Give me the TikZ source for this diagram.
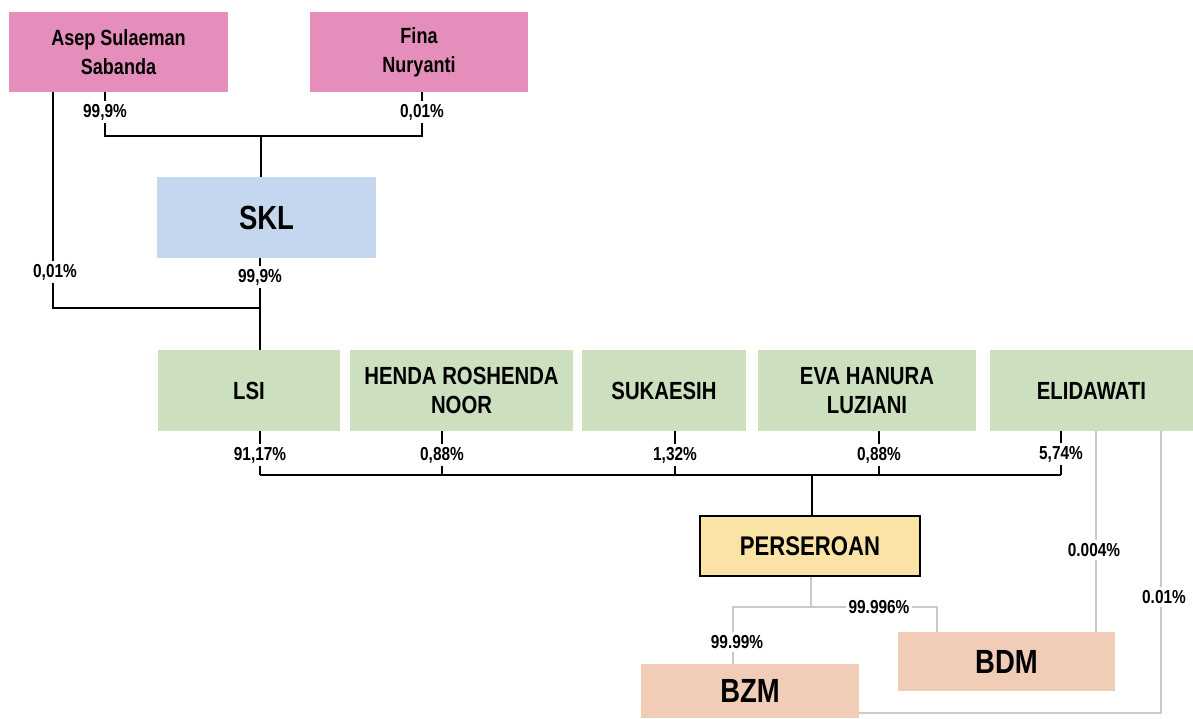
\documentclass[tikz,border=0pt]{standalone}
\usepackage{fontspec}
\setmainfont{Liberation Sans}[FakeStretch=0.82]
\usetikzlibrary{backgrounds}
\definecolor{cpink}{HTML}{E68EBB}
\definecolor{cblue}{HTML}{C5D7EE}
\definecolor{cgreen}{HTML}{CCE0BF}
\definecolor{cyellow}{HTML}{FAE3A5}
\definecolor{cpeach}{HTML}{F1CDB7}
\definecolor{cgray}{HTML}{C9C9C9}
\tikzset{
  box/.style={rectangle, draw=none, align=center, inner sep=0pt, font=\bfseries},
  topbox/.style={box, fill=cpink, minimum width=#1, minimum height=80pt, font=\bfseries\fontsize{22}{29}\selectfont},
  greenbox/.style={box, fill=cgreen, minimum width=#1, minimum height=81pt, font=\bfseries\fontsize{24.8}{29}\selectfont},
  bigbox/.style={box, minimum width=#1, font=\bfseries\fontsize{33.5}{36}\selectfont},
  pct/.style={fill=white, inner sep=3pt, font=\bfseries\fontsize{18.8}{20}\selectfont},
  bl/.style={line width=1.8pt, black},
  gl/.style={line width=1.8pt, cgray},
}
\begin{document}
\begin{tikzpicture}[x=1pt,y=-1pt]
\useasboundingbox (0,0) rectangle (1193,718);
% boxes
\node[topbox=219pt] (asep) at (118.5,52) {Asep Sulaeman\\Sabanda};
\node[topbox=218pt] (fina) at (419,52) {Fina\\Nuryanti};
\node[bigbox=219pt, fill=cblue, minimum height=81pt] (skl) at (266.5,217.5) {SKL};
\node[greenbox=182pt] (lsi) at (249,390.5) {LSI};
\node[greenbox=223pt] (henda) at (461.5,390.5) {HENDA ROSHENDA\\NOOR};
\node[greenbox=164pt] (suka) at (664,390.5) {SUKAESIH};
\node[greenbox=218pt] (eva) at (867,390.5) {EVA HANURA\\LUZIANI};
\node[greenbox=203pt] (eli) at (1091.5,390.5) {ELIDAWATI};
\node[box, fill=cyellow, draw=black, line width=2pt, minimum width=220pt, minimum height=60pt, font=\bfseries\fontsize{27}{29}\selectfont] (pers) at (810,546) {PERSEROAN};
\node[bigbox=217pt, fill=cpeach, minimum height=59pt] (bdm) at (1006.5,661.5) {BDM};
\node[bigbox=218pt, fill=cpeach, minimum height=54pt] (bzm) at (750,691) {BZM};
% junction coordinates
\coordinate (jtop) at (261,136);
\coordinate (jmid) at (260,308);
\coordinate (b1) at (260,475);
\coordinate (b2) at (442,475);
\coordinate (b3) at (675,475);
\coordinate (b4) at (879,475);
\coordinate (b5) at (1061,475);
\coordinate (b6) at (812,475);
\coordinate (g0) at (811,607);
\coordinate (gl1) at (733,607);
\coordinate (gr1) at (937,607);
\coordinate (e1) at (1096,431);
\coordinate (e2) at (1161,713);
\begin{scope}[on background layer]
\draw[bl] ([xshift=-13.5pt]asep.south) |- (jtop);
\draw[bl] ([xshift=3pt]fina.south) |- (jtop);
\draw[bl] (jtop) -- (jtop |- skl.north);
\draw[bl] ([xshift=-65.5pt]asep.south) |- (jmid);
\draw[bl] (jmid |- skl.south) -- (jmid |- lsi.north);
\draw[bl] (b1 |- lsi.south) -- (b1);
\draw[bl] (b2 |- henda.south) -- (b2);
\draw[bl] (b3 |- suka.south) -- (b3);
\draw[bl] (b4 |- eva.south) -- (b4);
\draw[bl] (b5 |- eli.south) -- (b5);
\draw[bl] (b1) -- (b5);
\draw[bl] (b6) -- (b6 |- pers.north);
\draw[gl] (g0 |- pers.south) -- (g0);
\draw[gl] (gl1 |- bzm.north) -- (gl1) -- (gr1) -- (gr1 |- bdm.north);
\draw[gl] (e1 |- eli.south) -- (e1 |- bdm.north);
\draw[gl] (e2 |- eli.south) -- (e2) -- (e2 -| bzm.east);
\end{scope}
% labels
\node[pct] (p1) at (105,112) {99,9\%};
\node[pct] (p2) at (422,112) {0,01\%};
\node[pct] (p3) at (55,272) {0,01\%};
\node[pct] (p4) at (260,277) {99,9\%};
\node[pct] (p5) at (260,455) {91,17\%};
\node[pct] (p6) at (442,455) {0,88\%};
\node[pct] (p7) at (675,455) {1,32\%};
\node[pct] (p8) at (879,455) {0,88\%};
\node[pct] (p9) at (1061,454) {5,74\%};
\node[pct] (p10) at (879,607) {99.996\%};
\node[pct] (p11) at (737,642) {99.99\%};
\node[pct] (p12) at (1094,550) {0.004\%};
\node[pct] (p13) at (1164,597) {0.01\%};
\end{tikzpicture}
\end{document}
